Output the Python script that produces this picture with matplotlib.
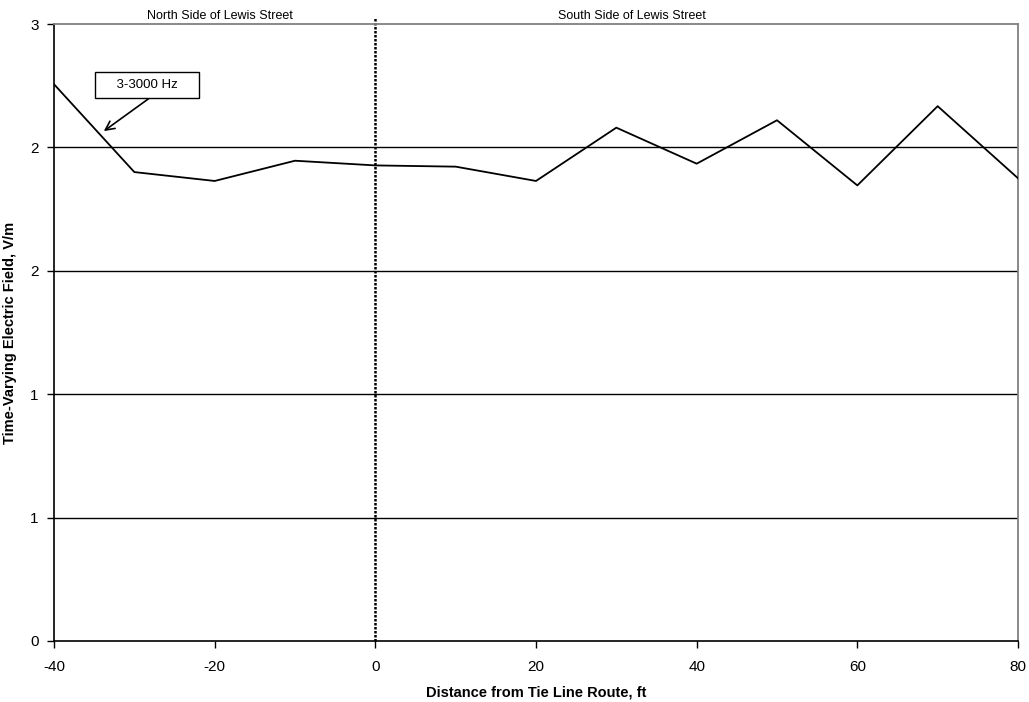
import matplotlib
matplotlib.use("Agg")
import matplotlib.pyplot as plt
import matplotlib.transforms as mtransforms

plt.rcParams['font.family'] = ['Liberation Sans', 'DejaVu Sans']

# donnees
distance_ft = [-40, -30, -20, -10, 0, 10, 20, 30, 40, 50, 60, 70, 80]
field_vm = [2.256, 1.90, 1.864, 1.946, 1.927, 1.922, 1.864, 2.08, 1.934, 2.11, 1.846, 2.167, 1.875]
y_ticks = [0, 0.5, 1.0, 1.5, 2.0, 2.5]
y_tick_labels = ['0', '1', '1', '2', '2', '3']
x_ticks = [-40, -20, 0, 20, 40, 60, 80]

fig = plt.figure(figsize=(10.29, 7.02), dpi=100)
ax = fig.add_axes([54 / 1029, 1 - 641 / 702, (1018 - 54) / 1029, (641 - 24) / 702])

# lignes de grille horizontales
for yv in y_ticks[1:-1]:
    ax.axhline(yv, color='black', lw=1, zorder=1)

ax.plot(distance_ft, field_vm, color='black', lw=1.3, zorder=3)

# ligne pointillee a x=0
ax.axvline(0, ymin=0, ymax=1.012, color='black', lw=1.8, ls=(0, (1, 0.6)),
           clip_on=False, zorder=2)

ax.set_xlim(-40, 80)
ax.set_ylim(0, 2.5)
ax.set_xticks(x_ticks)
ax.set_xticklabels([str(v) for v in x_ticks], fontsize=11)
ax.set_yticks(y_ticks)
ax.set_yticklabels(y_tick_labels, fontsize=11)
ax.tick_params(direction='out', length=5, width=1, color='black', pad=6)
ax.tick_params(axis='x', pad=9)

for side in ['top', 'right']:
    ax.spines[side].set_color('#808080')
    ax.spines[side].set_linewidth(1.3)
for side in ['left', 'bottom']:
    ax.spines[side].set_color('black')
    ax.spines[side].set_linewidth(1.2)

ax.set_xlabel('Distance from Tie Line Route, ft', fontsize=10.5, fontweight='bold')
ax.xaxis.set_label_coords(0.5, -0.072)
ax.set_ylabel('Time-Varying Electric Field, V/m', fontsize=10.5, fontweight='bold')
ax.yaxis.set_label_coords(-0.0384, 0.5)

trans = mtransforms.blended_transform_factory(ax.transData, ax.transAxes)
ax.text(-19.3, 1.013, 'North Side of Lewis Street', transform=trans, ha='center',
        va='center', fontsize=9)
ax.text(32, 1.013, 'South Side of Lewis Street', transform=trans, ha='center',
        va='center', fontsize=9)

# etiquette avec fleche
ax.text(-28.4, 2.253, '    3-3000 Hz    ', fontsize=9.5, ha='center', va='center',
        bbox=dict(boxstyle='square,pad=0.5', fc='white', ec='black', lw=1), zorder=5)
ax.annotate('', xy=(-33.8, 2.066), xytext=(-27.9, 2.205),
            arrowprops=dict(arrowstyle='->', color='black', lw=1.2,
                            shrinkA=0, shrinkB=0, mutation_scale=16),
            zorder=4)

fig.savefig('out.png', dpi=100)
